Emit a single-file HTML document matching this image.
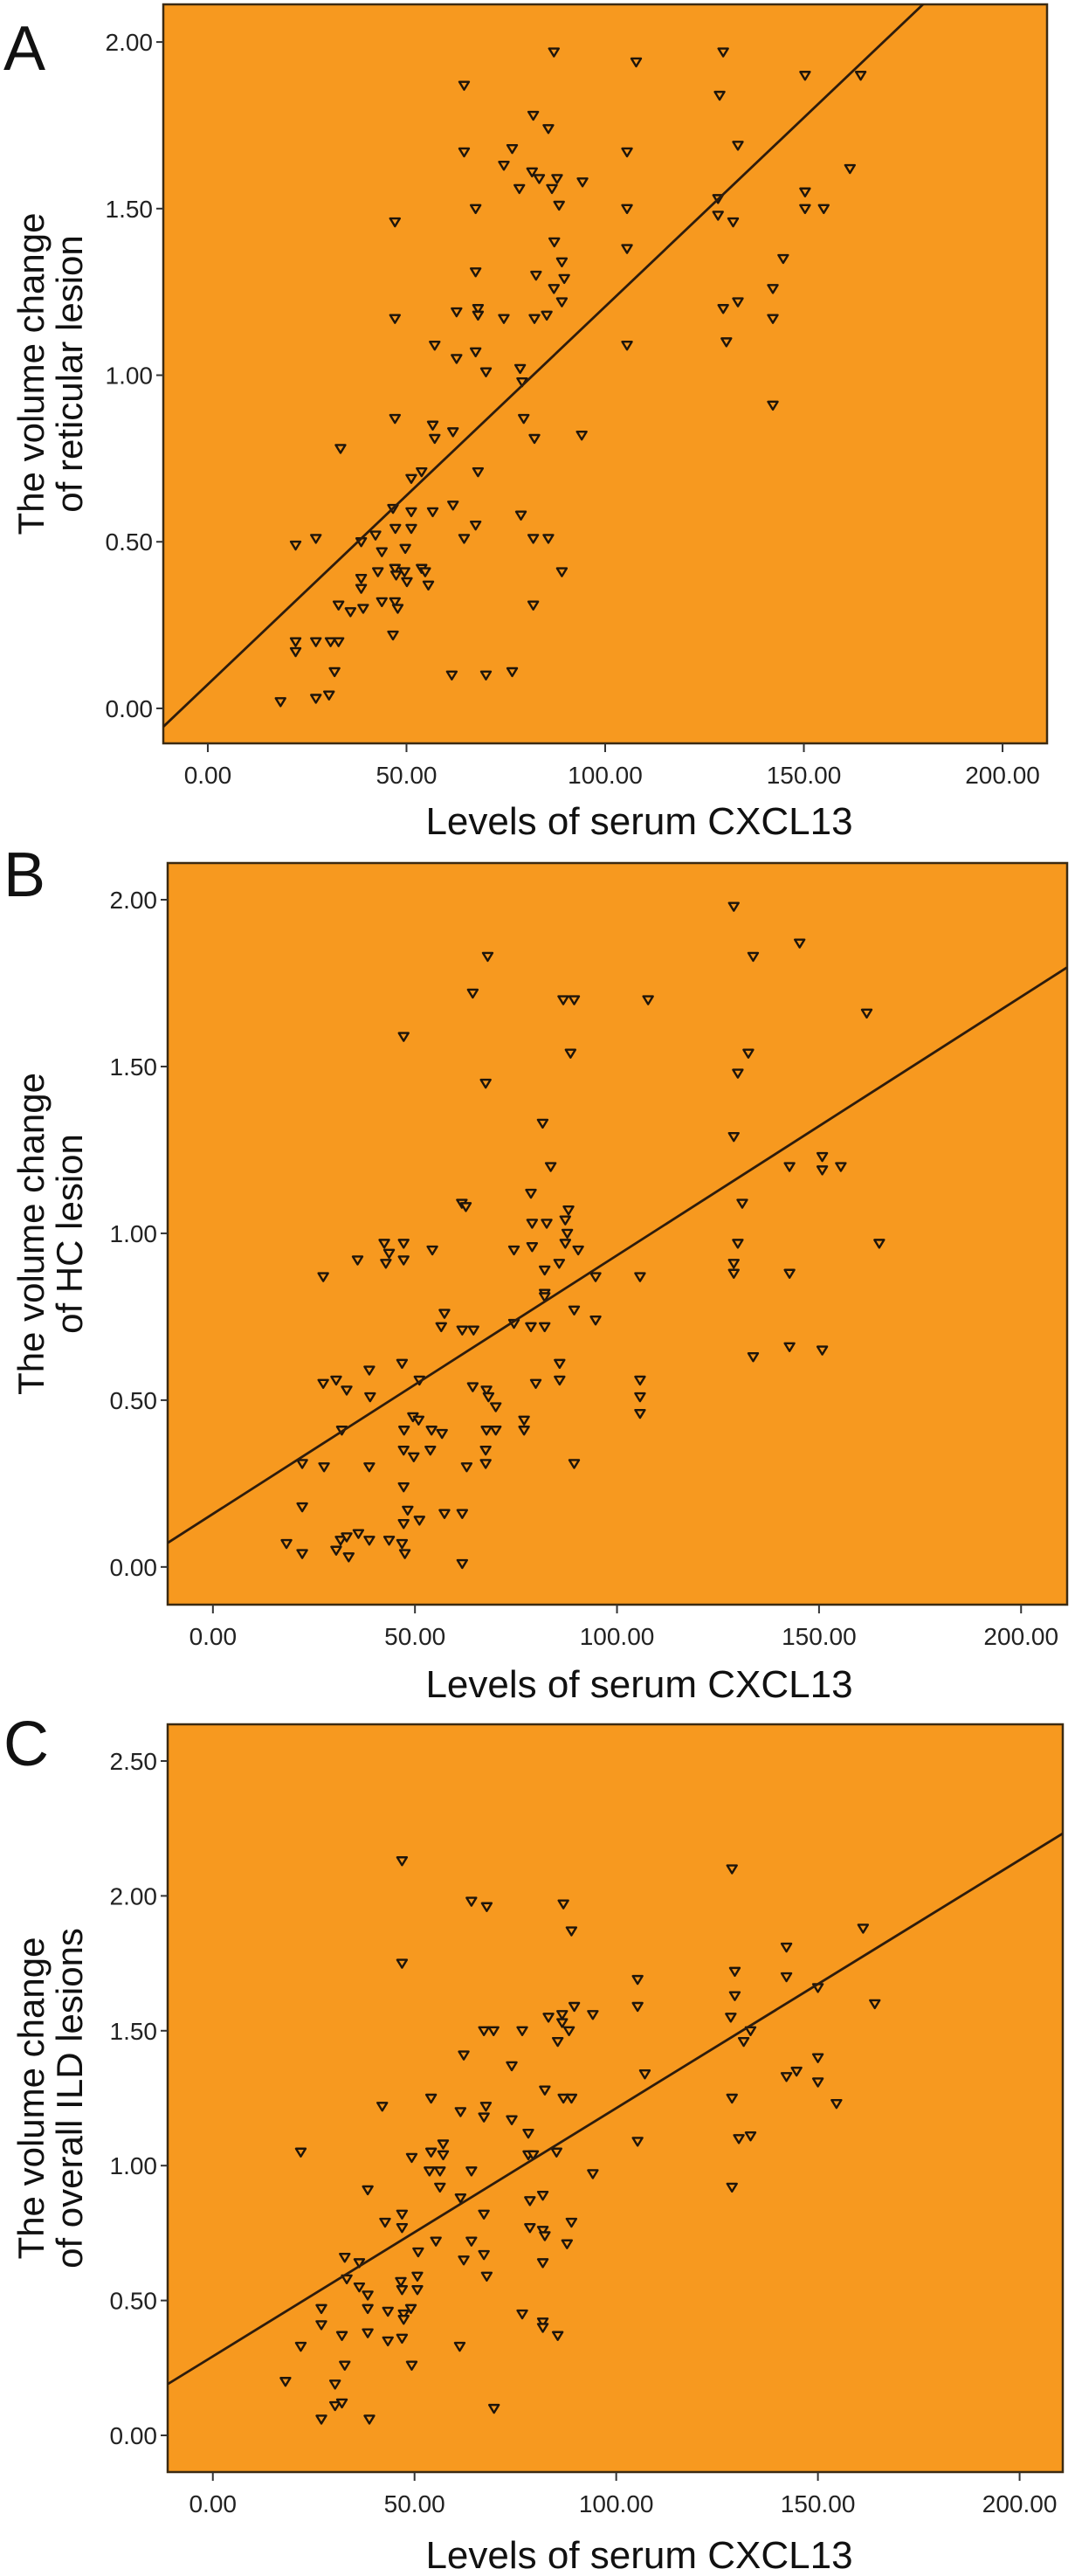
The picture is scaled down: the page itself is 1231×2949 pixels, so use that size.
<!DOCTYPE html>
<html><head><meta charset="utf-8"><style>
html,body{margin:0;padding:0;background:#fff;}
svg{display:block;font-family:"Liberation Sans",sans-serif;}
</style></head><body>
<svg id="fig" width="1231" height="2949" viewBox="0 0 1231 2949" xmlns="http://www.w3.org/2000/svg"></svg>
<script>
const xTicks=[0,50,100,150,200];
const aTicksY=[0,0.5,1,1.5,2];
const bTicksY=[0,0.5,1,1.5,2];
const cTicksY=[0,0.5,1,1.5,2,2.5];
const aX=[87.1,107.8,129.7,150.3,164.3,128.8,64.5,81.9,85.7,64.5,76.6,105.5,133.4,74.5,81.6,83.4,87.9,94.3,78.4,86.6,161.6,67.4,88.4,105.5,128.4,128.4,132.2,150.3,150.3,155,47.1,105.5,87.2,89.1,144.8,67.4,82.6,89.7,87.1,142.2,89.1,133.4,47.1,62.6,68,68,74.5,82.2,85.3,129.7,142.2,57.1,105.5,130.5,62.6,67.4,70,78.6,79.1,142.2,47.1,79.5,56.6,61.7,57.1,82.2,94.1,33.4,53.8,51.2,68,46.6,51.2,56.6,61.7,78.8,22.1,27.2,38.6,42.2,47.2,51.2,67.4,64.5,81.9,85.7,49.7,43.8,42.8,47.1,49.5,53.8,54.7,47.4,38.6,38.6,50.1,55.5,89.1,32.9,35.9,39.1,43.8,47.1,47.8,81.9,46.6,22.1,22.1,27.2,30.9,32.9,31.9,61.4,70,76.6,18.3,27.2,30.5];
const aY=[1.97,1.94,1.97,1.90,1.90,1.84,1.87,1.78,1.74,1.67,1.68,1.67,1.69,1.63,1.61,1.59,1.59,1.58,1.56,1.56,1.62,1.50,1.51,1.50,1.53,1.48,1.46,1.55,1.50,1.50,1.46,1.38,1.40,1.34,1.35,1.31,1.30,1.29,1.26,1.26,1.22,1.22,1.17,1.19,1.20,1.18,1.17,1.17,1.18,1.20,1.17,1.09,1.09,1.10,1.05,1.07,1.01,1.02,0.98,0.91,0.87,0.87,0.85,0.83,0.81,0.81,0.82,0.78,0.71,0.69,0.71,0.60,0.59,0.59,0.61,0.58,0.49,0.51,0.50,0.52,0.54,0.54,0.55,0.51,0.51,0.51,0.48,0.47,0.41,0.42,0.41,0.42,0.41,0.40,0.39,0.36,0.38,0.37,0.41,0.31,0.29,0.30,0.32,0.32,0.30,0.31,0.22,0.20,0.17,0.20,0.20,0.20,0.11,0.10,0.10,0.11,0.02,0.03,0.04];
const bX=[128.9,145.2,133.7,68,64.3,86.7,89.4,107.7,161.8,47.2,88.5,132.5,129.9,67.5,81.6,128.9,83.6,142.7,150.8,150.8,155.4,78.7,61.6,62.6,131,88,79,82.6,87.2,87.7,87.2,129.9,164.9,42.4,47.2,43.6,47.2,42.8,35.8,54.3,74.5,79,90.4,85.7,82.1,128.9,128.9,27.3,94.7,105.7,142.7,82.1,82.1,89.4,57.3,56.5,61.7,64.5,74.5,78.7,82.1,94.7,142.7,150.8,133.7,46.8,85.8,27.3,30.5,33.1,38.7,51.1,79.9,85.8,64.3,67.7,68.2,38.9,105.7,105.7,105.7,70,49.5,50.9,77,47.3,54.1,56.7,67.7,70,77,31.9,47.2,49.7,53.8,67.5,22.1,27.5,38.7,62.8,67.5,89.4,47.2,22.1,48.2,47.2,51.1,57.3,61.7,18.2,22.1,30.5,31.6,33.1,33.6,36,38.7,43.6,46.8,47.5,61.7];
const bY=[1.98,1.87,1.83,1.83,1.72,1.70,1.70,1.70,1.66,1.59,1.54,1.54,1.48,1.45,1.33,1.29,1.20,1.20,1.23,1.19,1.20,1.12,1.09,1.08,1.09,1.07,1.03,1.03,1.04,1.00,0.97,0.97,0.97,0.97,0.97,0.94,0.92,0.91,0.92,0.95,0.95,0.96,0.95,0.91,0.89,0.91,0.88,0.87,0.87,0.87,0.88,0.82,0.81,0.77,0.76,0.72,0.71,0.71,0.73,0.72,0.72,0.74,0.66,0.65,0.63,0.61,0.61,0.55,0.56,0.53,0.59,0.56,0.55,0.56,0.54,0.53,0.51,0.51,0.56,0.51,0.46,0.48,0.45,0.44,0.44,0.41,0.41,0.40,0.41,0.41,0.41,0.41,0.35,0.33,0.35,0.35,0.31,0.30,0.30,0.30,0.31,0.31,0.24,0.18,0.17,0.13,0.14,0.16,0.16,0.07,0.04,0.05,0.08,0.09,0.03,0.10,0.08,0.08,0.07,0.04,0.01];
const cX=[46.9,128.7,64.1,67.9,86.9,88.9,161.2,46.9,142.2,142.2,129.4,105.3,129.4,150,105.3,89.6,164.1,83.2,86.6,86.6,94.2,128.4,67.2,69.6,76.7,88.3,133.3,85.5,131.6,62.2,150,74.1,107.1,142.2,144.7,150,82.3,54.1,86.9,88.9,128.7,42,67.7,154.6,61.4,67.2,74.1,78.2,130.4,133.3,105.3,57.1,54.1,57.1,49.3,78.2,79.4,85.2,21.8,53.7,56.3,64.1,94.2,56.3,38.4,128.7,61.4,81.8,78.6,46.9,67.2,42.7,46.9,88.9,78.6,81.8,82.3,55.3,64.1,87.8,50.9,67.2,62.2,32.7,36.3,81.8,50.7,67.9,33.2,46.6,36.3,46.9,50.7,38.4,26.9,38.4,49.1,43.4,47.3,47.3,76.7,81.8,81.8,26.9,38.4,32,43.4,46.9,85.5,21.8,61.2,32.7,49.3,18,30.3,30.3,32,69.7,26.9,38.8];
const cY=[2.13,2.10,1.98,1.96,1.97,1.87,1.88,1.75,1.81,1.70,1.72,1.69,1.63,1.66,1.59,1.59,1.60,1.55,1.56,1.53,1.56,1.55,1.50,1.50,1.50,1.50,1.50,1.46,1.46,1.41,1.40,1.37,1.34,1.33,1.35,1.31,1.28,1.25,1.25,1.25,1.25,1.22,1.22,1.23,1.20,1.18,1.17,1.12,1.10,1.11,1.09,1.08,1.05,1.04,1.03,1.04,1.04,1.05,1.05,0.98,0.98,0.98,0.97,0.92,0.91,0.92,0.88,0.89,0.87,0.82,0.82,0.79,0.77,0.79,0.77,0.76,0.74,0.72,0.72,0.71,0.68,0.67,0.65,0.66,0.64,0.64,0.59,0.59,0.58,0.57,0.55,0.54,0.54,0.52,0.47,0.47,0.47,0.46,0.45,0.43,0.45,0.42,0.40,0.41,0.38,0.37,0.35,0.36,0.37,0.33,0.33,0.26,0.26,0.20,0.19,0.11,0.12,0.10,0.06,0.06];
const fitA=[0.072,0.01134];
const fitB=[0.159,0.00775];
const fitC=[0.293,0.0092];

const NS="http://www.w3.org/2000/svg";
const svg=document.getElementById('fig');
function mk(tag,attrs,parent,text){const e=document.createElementNS(NS,tag);for(const k in attrs)e.setAttribute(k,attrs[k]);if(text!==undefined)e.textContent=text;(parent||svg).appendChild(e);return e;}

function panel(cfg){
  const g=mk('g',{});
  
  
  const sx=v=>cfg.L+(v-cfg.xd[0])/(cfg.xd[1]-cfg.xd[0])*(cfg.R-cfg.L);
  const sy=v=>cfg.B-(v-cfg.yd[0])/(cfg.yd[1]-cfg.yd[0])*(cfg.B-cfg.T);
  const bg=mk('rect',{x:cfg.L,y:cfg.T,width:cfg.R-cfg.L,height:cfg.B-cfg.T,fill:'#F7991F',stroke:'#3b2a12','stroke-width':2.5},g);
  
  
  const letter=mk('text',{x:4,y:cfg.letterY,'font-size':72,fill:'#111'},g,cfg.id);
  
  
  xTicks.forEach(v=>{
    const x=sx(v);
    const t=mk('line',{x1:x,y1:cfg.B,x2:x,y2:cfg.B+10,stroke:'#333','stroke-width':2},g);
    
    
    const l=mk('text',{x:x,y:cfg.B+46,'font-size':28,'text-anchor':'middle',fill:'#222'},g,v.toFixed(2));
    
    
  });
  cfg.yt.forEach(v=>{
    const y=sy(v);
    const t=mk('line',{x1:cfg.L-8,y1:y,x2:cfg.L,y2:y,stroke:'#333','stroke-width':2},g);
    
    
    const l=mk('text',{x:cfg.L-12,y:y+10,'font-size':28,'text-anchor':'end',fill:'#222'},g,v.toFixed(2));
    
    
  });
  const xt=mk('text',{x:732,y:cfg.xtY,'font-size':44,'text-anchor':'middle',fill:'#111'},g,'Levels of serum CXCL13');
  
  
  const ym=(cfg.T+cfg.B)/2;
  const yt1=mk('text',{x:0,y:0,'font-size':42,'text-anchor':'middle',fill:'#111',transform:`translate(50,${ym}) rotate(-90)`},g,'The volume change');
  
  
  const yt2=mk('text',{x:0,y:0,'font-size':42,'text-anchor':'middle',fill:'#111',transform:`translate(94,${ym}) rotate(-90)`},g,cfg.ytitle);
  
  
  const cp=mk('clipPath',{id:'clip'+cfg.id},g);
  mk('rect',{x:cfg.L,y:cfg.T,width:cfg.R-cfg.L,height:cfg.B-cfg.T},cp);
  const pts=mk('g',{'clip-path':`url(#clip${cfg.id})`},g);
  
  
  cfg.xs.forEach((xv,i)=>{
    const x=sx(xv),y=sy(cfg.ys[i]);
    const p=mk('path',{d:`M${x-5.5},${y-4} L${x+5.5},${y-4} L${x},${y+5} Z`,fill:'#F7991F',stroke:'#1f150a','stroke-width':2.4,'stroke-linejoin':'round'},pts);
    
    
  });
  const f=cfg.fit;
  const x0=cfg.xd[0],x1=cfg.xd[1];
  const ln=mk('line',{x1:sx(x0),y1:sy(f[0]+f[1]*x0),x2:sx(x1),y2:sy(f[0]+f[1]*x1),stroke:'#2e1c0c','stroke-width':2.8},pts);
  
  
}

panel({id:'A',L:187,R:1199,T:5,B:851,xd:[-11.2,211.2],yd:[-0.105,2.113],yt:aTicksY,xs:aX,ys:aY,fit:fitA,letterY:80,xtY:955,ytitle:'of reticular lesion'});
panel({id:'B',L:192,R:1222,T:988,B:1837,xd:[-11.2,211.4],yd:[-0.113,2.11],yt:bTicksY,xs:bX,ys:bY,fit:fitB,letterY:1026,xtY:1943,ytitle:'of HC lesion'});
panel({id:'C',L:192,R:1217,T:1974,B:2830,xd:[-11.2,210.7],yd:[-0.136,2.636],yt:cTicksY,xs:cX,ys:cY,fit:fitC,letterY:2021,xtY:2940,ytitle:'of  overall ILD lesions'});
</script>
</body></html>
